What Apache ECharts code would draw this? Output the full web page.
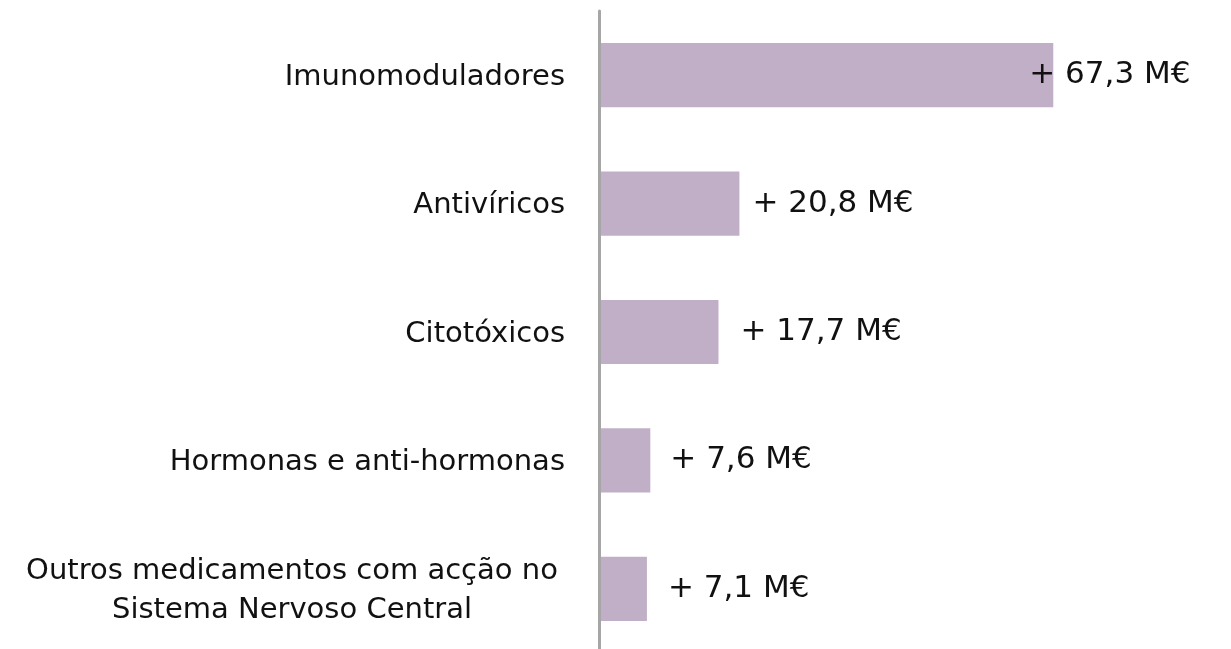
<!DOCTYPE html>
<html>
<head>
<meta charset="utf-8">
<script src="https://cdn.jsdelivr.net/npm/echarts@6/dist/echarts.min.js"></script>
<style>
html,body{margin:0;padding:0;background:#fff;}
#chart{width:1231px;height:649px;}
</style>
</head>
<body>
<div id="chart"></div>
<script>
// Data
const categories = [
  'Imunomoduladores',
  'Antivíricos',
  'Citotóxicos',
  'Hormonas e anti-hormonas',
  'Outros medicamentos com acção no\nSistema Nervoso Central'
];
const values = [67.3, 20.8, 17.7, 7.6, 7.1];

// Layout (label horizontal shift from bar end, px)
const labelShift = [-24, 13, 22, 20, 21];

const FONT = 'DejaVu Sans';
const chart = echarts.init(document.getElementById('chart'));
chart.setOption({
  animation: false,
  backgroundColor: '#fff',
  grid: { left: 599, width: 540, top: 11, height: 642, containLabel: false, outerBoundsMode: 'none' },
  xAxis: { type: 'value', min: 0, max: 80, show: false },
  yAxis: {
    type: 'category',
    data: categories,
    inverse: true,
    z: 10,
    axisTick: { show: false },
    axisLine: { show: true, lineStyle: { color: '#A6A6A6', width: 3 } },
    splitLine: { show: false },
    axisLabel: {
      margin: 34,
      fontFamily: FONT,
      fontSize: 29,
      color: '#111',
      padding: [4, 0, 0, 0],
      formatter: function (v) {
        if (v.indexOf('\n') >= 0) {
          return v.split('\n').map(s => '{c|' + s + '}').join('\n');
        }
        return v;
      },
      rich: {
        c: { width: 546, align: 'center', fontFamily: FONT, fontSize: 29, lineHeight: 39, color: '#111' }
      }
    }
  },
  series: [{
    type: 'bar',
    barCategoryGap: '50%',
    itemStyle: { color: '#C0AFC6' },
    label: {
      show: true,
      position: 'right',
      distance: 0,
      fontFamily: FONT,
      fontSize: 31,
      color: '#111',
      formatter: p => '+ ' + p.value.toFixed(1).replace('.', ',') + ' M€'
    },
    data: values.map((v, i) => ({ value: v, label: { offset: [labelShift[i], 0] } }))
  }]
});
</script>
</body>
</html>
